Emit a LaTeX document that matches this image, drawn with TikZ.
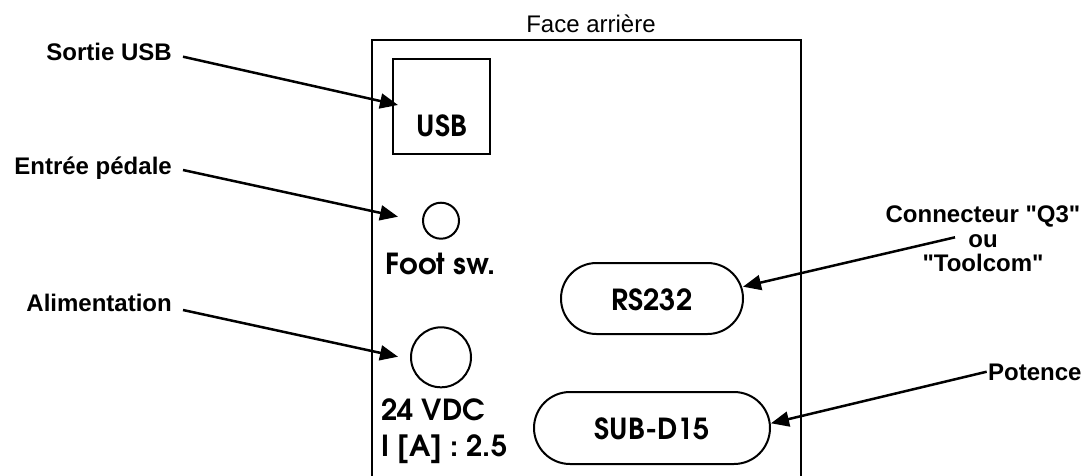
\documentclass[tikz,border=0pt]{standalone}
\usepackage{fontspec}
\setmainfont{Liberation Sans}[Ligatures=TeXOff]
\newfontfamily\geo{TeX Gyre Adventor}
\usetikzlibrary{arrows.meta,shapes.misc}
\begin{document}
\begin{tikzpicture}[x=1pt,y=-1pt,
  lbl/.style={font=\fontsize{24}{24.5}\selectfont\bfseries, inner sep=0pt},
  ttl/.style={font=\fontsize{24}{24}\selectfont, inner sep=0pt},
  part/.style={font=\geo\fontsize{29}{30}\selectfont\bfseries, inner sep=0pt},
  ptr/.style={line width=2.5pt, -{Triangle[length=18pt,width=15pt]}},
  outline/.style={draw, line width=2pt}]
\useasboundingbox (0,0) rectangle (1088,475);

% panel
\draw[line width=2pt] (372,478) -- (372,40) -- (801,40) -- (801,478);
\node[ttl, anchor=base] (title) at (591,32.3) {Face arrière};

% components
\node[outline, rectangle, minimum width=97pt, minimum height=95pt] (usbbox) at (441.5,106.5) {};
\node[part, anchor=base] (usbtxt) at (442,136.7) {USB};
\node[outline, circle, minimum size=36pt, inner sep=0pt] (foot) at (441,220.7) {};
\node[part, anchor=base] (foottxt) at (441,274) {Foot sw.};
\node[outline, circle, minimum size=60pt, inner sep=0pt] (pwr) at (441,357.3) {};
\node[part, anchor=base west] (vdc) at (381,420.7) {24 VDC};
\node[part, anchor=base west] (amp) at (381,456.7) {I [A] : 2.5};
\node[outline, rounded rectangle, minimum width=182pt, minimum height=71pt, inner sep=0pt] (rs) at (652,298.5) {};
\node[part, anchor=base] (rstxt) at (652,310) {RS232};
\node[outline, rounded rectangle, minimum width=236pt, minimum height=72pt, inner sep=0pt] (sub) at (652,428) {};
\node[part, anchor=base] (subtxt) at (652.5,439.3) {SUB-D15};

% labels
\node[lbl, anchor=base east] (lusb) at (172,60.7) {Sortie USB};
\node[lbl, anchor=base east] (lped) at (172,174.5) {Entrée pédale};
\node[lbl, anchor=base east] (lali) at (172,311.7) {Alimentation};
\node[lbl, anchor=base, align=center] (lq3) at (983,271.7) {Connecteur "Q3"\\ou\\"Toolcom"};
\node[lbl, anchor=base west] (lpot) at (988,380.7) {Potence};

% arrow end points
\coordinate (s1) at (183,56.7);   \coordinate (t1) at (398,105);
\coordinate (s2) at (183,170);    \coordinate (t2) at (398,216.7);
\coordinate (s3) at (183,310);    \coordinate (t3) at (398,356.7);
\coordinate (s4) at (955,237.3);  \coordinate (t4) at (743,286.7);
\coordinate (s5) at (986.7,371.7);\coordinate (t5) at (771,423.3);

\draw[ptr] (s1) -- (t1);
\draw[ptr] (s2) -- (t2);
\draw[ptr] (s3) -- (t3);
\draw[ptr] (s4) -- (t4);
\draw[ptr] (s5) -- (t5);
\end{tikzpicture}
\end{document}
